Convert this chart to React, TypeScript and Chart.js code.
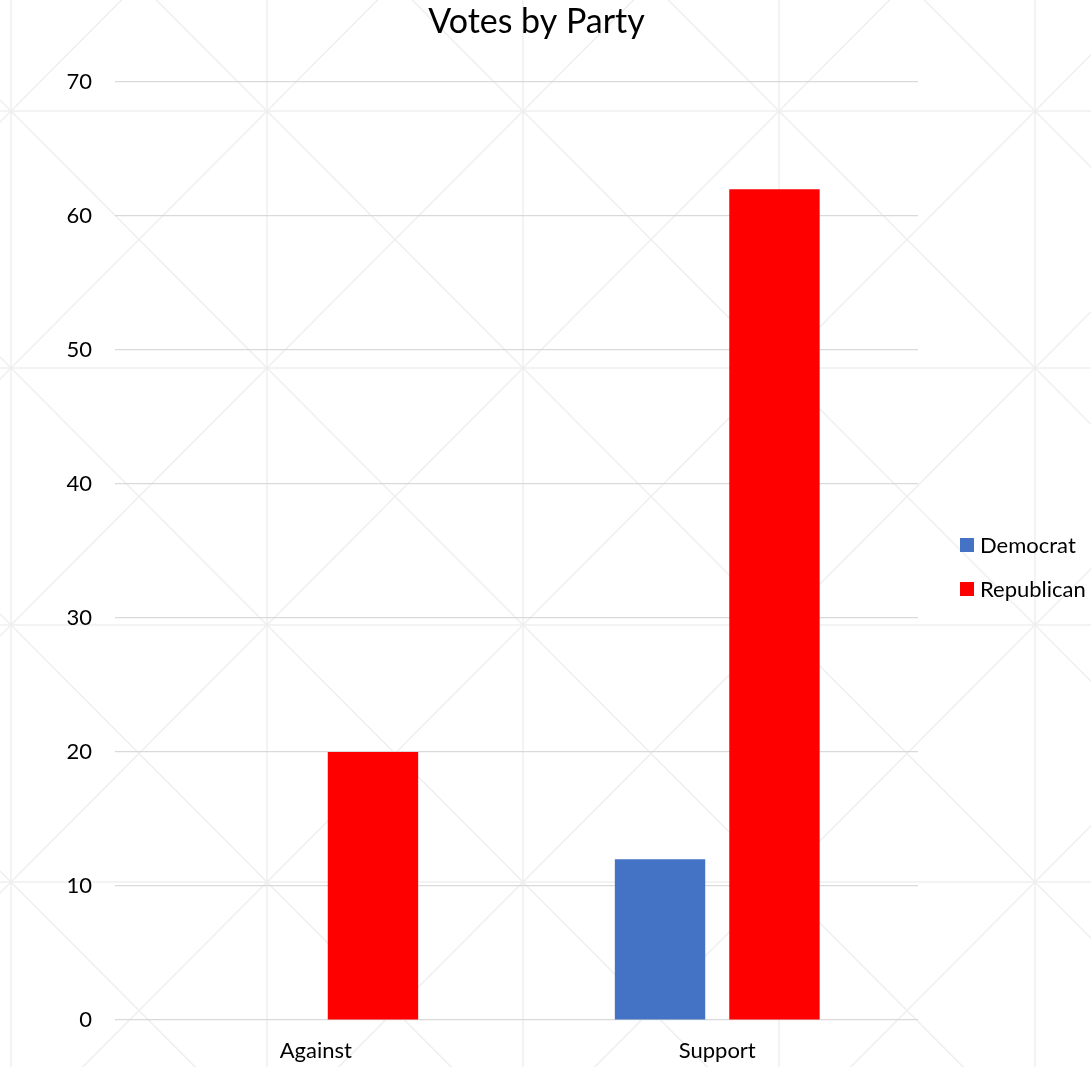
import React, { useEffect, useRef } from 'react';
import { Chart, registerables } from 'chart.js';

Chart.register(...registerables);

// ---- data ----
const categories = ['Against', 'Support'];
const seriesNames = ['Democrat', 'Republican'];
const democratValues = [0, 12];
const republicanValues = [20, 62];
const seriesColors = ['#4472C4', '#FF0000'];
const yMin = 0;
const yMax = 70;
const yStep = 10;
const chartTitle = 'Votes by Party';

const FONT = 'Lato, Carlito, Calibri, "Noto Sans", sans-serif';
const W = 1091;
const H = 1067;

const backgroundPattern = {
  id: 'bgPattern',
  beforeDraw(chart: any) {
    const { ctx, width, height } = chart;
    ctx.save();
    ctx.fillStyle = '#ffffff';
    ctx.fillRect(0, 0, width, height);
    ctx.strokeStyle = '#efefef';
    ctx.lineWidth = 1.5;
    const x0 = 11, dx = 256, y0 = 111, dy = 257;
    ctx.beginPath();
    for (let x = x0 - dx; x <= width + dx; x += dx) {
      ctx.moveTo(x, 0);
      ctx.lineTo(x, height);
    }
    for (let y = y0 - dy; y <= height + dy; y += dy) {
      ctx.moveTo(0, y);
      ctx.lineTo(width, y);
    }
    for (let x = x0 - dx; x <= width + dx; x += dx) {
      for (let y = y0 - dy; y <= height + dy; y += dy) {
        ctx.moveTo(x, y);
        ctx.lineTo(x + dx, y + dy);
        ctx.moveTo(x + dx, y);
        ctx.lineTo(x, y + dy);
      }
    }
    ctx.stroke();
    ctx.restore();
  },
};

const titleAndLegend = {
  id: 'titleAndLegend',
  afterDraw(chart: any) {
    const { ctx } = chart;
    ctx.save();
    // title
    ctx.fillStyle = '#000000';
    ctx.font = `34px ${FONT}`;
    ctx.textAlign = 'center';
    ctx.textBaseline = 'alphabetic';
    ctx.fillText(chartTitle, chart.width / 2 - 9, 33);
    // legend
    const x = chart.chartArea.right + 42;
    const startY = 545;
    chart.data.datasets.forEach((ds: any, i: number) => {
      const cy = startY + i * 44;
      ctx.fillStyle = ds.backgroundColor;
      ctx.fillRect(x, cy - 7, 14, 14);
      ctx.fillStyle = '#000000';
      ctx.font = `22px ${FONT}`;
      ctx.textBaseline = 'middle';
      ctx.textAlign = 'left';
      ctx.fillText(ds.label, x + 20, cy + 1);
    });
    ctx.restore();
  },
};

export default function App() {
  const canvasRef = useRef<HTMLCanvasElement | null>(null);

  useEffect(() => {
    if (!canvasRef.current) return;
    const chart = new Chart(canvasRef.current, {
      type: 'bar',
      data: {
        labels: categories,
        datasets: [
          {
            label: seriesNames[0],
            data: democratValues,
            backgroundColor: seriesColors[0],
            categoryPercentage: 0.57,
            barPercentage: 0.79,
          },
          {
            label: seriesNames[1],
            data: republicanValues,
            backgroundColor: seriesColors[1],
            categoryPercentage: 0.57,
            barPercentage: 0.79,
          },
        ],
      },
      options: {
        animation: false,
        responsive: false,
        devicePixelRatio: 1,
        layout: { padding: { left: 0, right: 173, top: 82, bottom: 0 } },
        plugins: {
          legend: { display: false },
          tooltip: { enabled: false },
          title: { display: false },
        },
        scales: {
          x: {
            afterFit: (scale: any) => {
              scale.height = 47;
            },
            grid: { display: false, drawTicks: false },
            border: { display: false },
            ticks: {
              color: '#000000',
              font: { family: FONT, size: 22 },
              padding: 18,
              maxRotation: 0,
            },
          },
          y: {
            min: yMin,
            max: yMax,
            afterFit: (scale: any) => {
              scale.width = 115;
            },
            grid: { color: '#d9d9d9', lineWidth: 1.2, drawTicks: false },
            border: { display: false },
            ticks: {
              stepSize: yStep,
              color: '#000000',
              font: { family: FONT, size: 22 },
              padding: 23,
            },
          },
        },
      },
      plugins: [backgroundPattern, titleAndLegend],
    } as any);
    return () => chart.destroy();
  }, []);

  return (
    <div style={{ position: 'absolute', left: 0, top: 0, width: W, height: H }}>
      <canvas ref={canvasRef} width={W} height={H} style={{ display: 'block' }} />
    </div>
  );
}
